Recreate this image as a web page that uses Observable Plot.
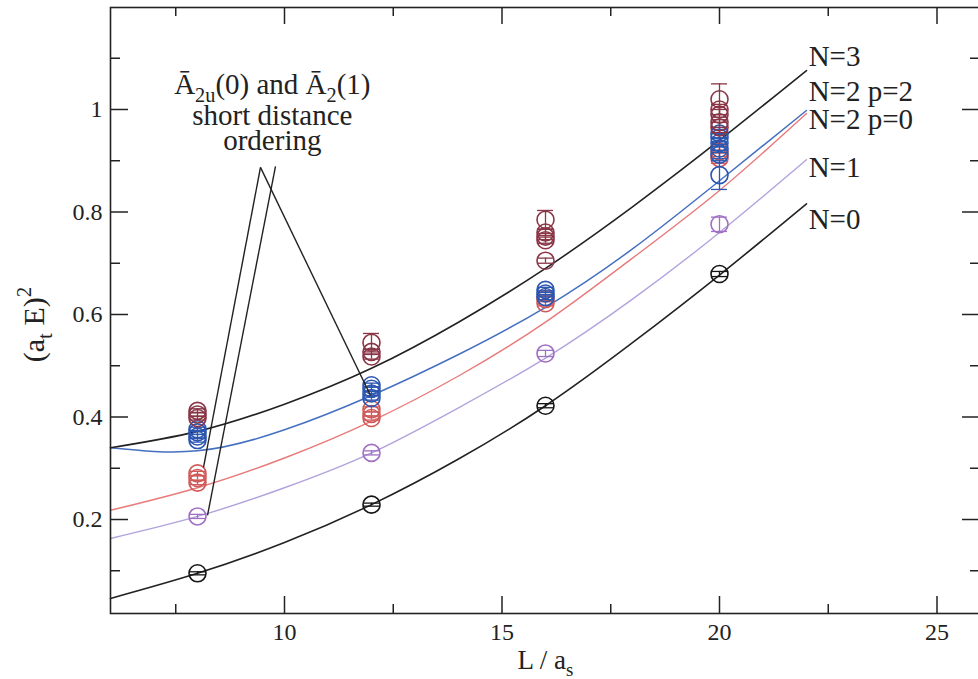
<!DOCTYPE html>
<html>
<head>
<meta charset="utf-8">
<script src="https://cdn.jsdelivr.net/npm/d3@7"></script>
<script src="https://cdn.jsdelivr.net/npm/@observablehq/plot@0.6"></script>
<style>
  html, body { margin: 0; padding: 0; background: #fff; overflow: hidden; }
  svg { overflow: hidden; }
  svg, svg text, svg tspan { font-family: "Liberation Serif", "Times New Roman", serif !important; }
</style>
</head>
<body>
<script>
// Lattice sizes L / a_s at which the energies were measured
const sizes = [8, 12, 16, 20];

// Measured (a_t E)^2 values per lattice size, with errors
const energyN0 = [[0.095], [0.229], [0.422], [0.679]];
const errorN0  = [[0.003], [0.003], [0.004], [0.005]];
const energyN1 = [[0.206], [0.330], [0.524], [0.776]];
const errorN1  = [[0.004], [0.004], [0.006], [0.014]];
const energyN2p0 = [[0.272, 0.281, 0.290], [0.398, 0.406, 0.415], [0.622, 0.630], [0.905, 0.918]];
const errorN2p0  = [[0.004, 0.004, 0.004], [0.004, 0.004, 0.005], [0.005, 0.005], [0.010, 0.010]];
const energyN2p2 = [[0.355, 0.362, 0.370, 0.376], [0.437, 0.446, 0.455, 0.462], [0.634, 0.641, 0.648], [0.872, 0.912, 0.924, 0.935, 0.945, 0.953]];
const errorN2p2  = [[0.004, 0.004, 0.004, 0.004], [0.004, 0.004, 0.004, 0.004], [0.005, 0.005, 0.005], [0.028, 0.008, 0.008, 0.008, 0.008, 0.008]];
const energyN3 = [[0.398, 0.405, 0.412], [0.518, 0.527, 0.545], [0.705, 0.745, 0.752, 0.760, 0.785], [0.965, 0.975, 0.990, 1.000, 1.020]];
const errorN3  = [[0.004, 0.004, 0.004], [0.005, 0.005, 0.018], [0.005, 0.006, 0.006, 0.006, 0.018], [0.010, 0.010, 0.010, 0.010, 0.030]];

// Fitted curves sampled along L / a_s
const fitL   = [6, 8, 10, 12, 14, 16, 18, 20, 22];
const fitN0  = [0.046, 0.095, 0.155, 0.229, 0.318, 0.422, 0.545, 0.677, 0.816];
const fitN1  = [0.163, 0.206, 0.262, 0.330, 0.418, 0.515, 0.630, 0.760, 0.902];
const fitN2p0 = [0.218, 0.262, 0.320, 0.392, 0.480, 0.585, 0.710, 0.842, 0.992];
const fitN2p2 = [0.340, 0.334, 0.375, 0.442, 0.522, 0.614, 0.728, 0.861, 0.998];
const fitN3  = [0.340, 0.372, 0.425, 0.495, 0.585, 0.690, 0.810, 0.940, 1.076];

// Curve labels at the right end of the fits
const curveLabels = ["N=3", "N=2 p=2", "N=2 p=0", "N=1", "N=0"];
const curveLabelY = [1.084, 1.016, 0.962, 0.869, 0.766];
const curveLabelX = 22.05;

// Annotation text and its pointers (data coordinates)
const noteLines = ["Ā2u(0) and Ā2(1)", "short distance", "ordering"];
const noteY = [1.031, 0.969, 0.920];
const noteX = 9.72;
const pointerFrom = [[9.448, 0.887], [9.793, 0.889], [9.448, 0.887]];
const pointerTo   = [[8.138, 0.3015], [8.23, 0.208], [11.977, 0.442]];

// Axis ticks
const xMajor = [10, 15, 20, 25];
const xMinor = [7.5, 12.5, 17.5, 22.5];
const yMajor = [0.2, 0.4, 0.6, 0.8, 1];
const yMinor = [0.1, 0.3, 0.5, 0.7, 0.9, 1.1];

const xDomain = [6, 26];
const yDomain = [0.0166, 1.199];

const serif = "'Liberation Serif', 'Times New Roman', serif";
const ink = "#222";
const series = [
  {E: energyN0,   err: errorN0,   dot: "#151515"},
  {E: energyN1,   err: errorN1,   dot: "#a070c4"},
  {E: energyN2p0, err: errorN2p0, dot: "#d05a5a"},
  {E: energyN2p2, err: errorN2p2, dot: "#2c56b0"},
  {E: energyN3,   err: errorN3,   dot: "#8a3646"}
];
const fits = [
  {y: fitN0,   stroke: ink,       w: 1.6},
  {y: fitN1,   stroke: "#b3a3dd", w: 1.4},
  {y: fitN2p0, stroke: "#e87a7a", w: 1.4},
  {y: fitN2p2, stroke: "#4570c0", w: 1.5},
  {y: fitN3,   stroke: ink,       w: 1.6}
];

function rows(s) {
  return sizes.flatMap((L, i) => s.E[i].map((E, j) => ({L, E, err: s.err[i][j]})));
}

const marks = [];

// fitted curves
for (const f of fits) {
  marks.push(Plot.line(fitL.map((L, i) => ({L, E: f.y[i]})),
    {x: "L", y: "E", curve: "natural", stroke: f.stroke, strokeWidth: f.w}));
}

// measurements: error bars, caps and open circles
for (const s of series) {
  const data = rows(s);
  marks.push(Plot.ruleX(data, {x: "L", y1: d => d.E - d.err, y2: d => d.E + d.err, stroke: s.dot, strokeWidth: 1.3}));
  marks.push(Plot.ruleY(data, {x1: "L", x2: "L", y: d => d.E + d.err, insetLeft: -8, insetRight: -8, stroke: s.dot, strokeWidth: 1.3}));
  marks.push(Plot.ruleY(data, {x1: "L", x2: "L", y: d => d.E - d.err, insetLeft: -8, insetRight: -8, stroke: s.dot, strokeWidth: 1.3}));
  marks.push(Plot.dot(data, {x: "L", y: "E", r: 8.5, stroke: s.dot, strokeWidth: 1.6, fill: "none"}));
}

// annotation pointers and text
marks.push(Plot.link(pointerFrom.map((p, i) => ({p, q: pointerTo[i]})), {
  x1: d => d.p[0], y1: d => d.p[1], x2: d => d.q[0], y2: d => d.q[1],
  stroke: ink, strokeWidth: 1.4
}));
marks.push(Plot.text(noteLines, {
  x: () => noteX, y: (d, i) => noteY[i], text: d => d,
  textAnchor: "middle", lineAnchor: "bottom", fontSize: 29, fontFamily: serif, fill: ink
}));

// curve labels
marks.push(Plot.text(curveLabels, {
  x: () => curveLabelX, y: (d, i) => curveLabelY[i], text: d => d,
  textAnchor: "start", lineAnchor: "bottom", fontSize: 29, fontFamily: serif, fill: ink
}));

// frame and inward ticks on all four sides
const [xLo, xHi] = xDomain, [yLo, yHi] = yDomain;
marks.push(Plot.frame({stroke: ink, strokeWidth: 1.6}));
marks.push(Plot.ruleX(xMajor, {x: d => d, y1: yLo, y2: yLo, insetBottom: 17, stroke: ink, strokeWidth: 1.5}));
marks.push(Plot.ruleX(xMinor, {x: d => d, y1: yLo, y2: yLo, insetBottom: 9, stroke: ink, strokeWidth: 1.5}));
marks.push(Plot.ruleX(xMajor, {x: d => d, y1: yHi, y2: yHi, insetTop: 17, stroke: ink, strokeWidth: 1.5}));
marks.push(Plot.ruleX(xMinor, {x: d => d, y1: yHi, y2: yHi, insetTop: 9, stroke: ink, strokeWidth: 1.5}));
marks.push(Plot.ruleY(yMajor, {y: d => d, x1: xLo, x2: xLo, insetRight: -18, stroke: ink, strokeWidth: 1.5}));
marks.push(Plot.ruleY(yMinor, {y: d => d, x1: xLo, x2: xLo, insetRight: -10, stroke: ink, strokeWidth: 1.5}));
marks.push(Plot.ruleY(yMajor, {y: d => d, x1: xHi, x2: xHi, insetLeft: -18, stroke: ink, strokeWidth: 1.5}));
marks.push(Plot.ruleY(yMinor, {y: d => d, x1: xHi, x2: xHi, insetLeft: -10, stroke: ink, strokeWidth: 1.5}));

// tick labels
marks.push(Plot.axisX(xMajor, {anchor: "bottom", tickSize: 0, tickPadding: 9, fontSize: 24, fontFamily: serif, label: null}));
marks.push(Plot.axisY(yMajor, {anchor: "left", tickSize: 0, tickPadding: 8, fontSize: 24, fontFamily: serif, label: null,
  tickFormat: d => d === 1 ? "1" : d3.format(".1f")(d)}));

// axis titles (subscripts added below)
const xTitle = "L / as";
const yTitle = "(at E)2";
marks.push(Plot.text([xTitle], {frameAnchor: "bottom", dy: 55, textAnchor: "middle", lineAnchor: "bottom", fontSize: 27, fontFamily: serif, fill: ink}));
marks.push(Plot.text([yTitle], {frameAnchor: "left", dx: -67, dy: 14, rotate: -90, textAnchor: "middle", lineAnchor: "bottom", fontSize: 30, fontFamily: serif, fill: ink}));

const chart = Plot.plot({
  width: 978,
  height: 679,
  marginLeft: 110,
  marginRight: -2,
  marginTop: 7,
  marginBottom: 66,
  x: {domain: xDomain},
  y: {domain: yDomain},
  style: {fontFamily: serif, fontSize: "24px", color: ink, background: "#fff"},
  marks
});
document.body.appendChild(chart);

// Rebuild selected labels with sub/superscripts
function rich(content, parts, size) {
  d3.select(chart).selectAll("text").filter(function () { return this.textContent === content; })
    .each(function () {
      const el = d3.select(this);
      el.text(null);
      let shift = 0;
      for (const [str, kind] of parts) {
        const t = el.append("tspan").text(str);
        const target = kind === "sub" ? size * 0.28 : kind === "sup" ? -size * 0.42 : 0;
        if (target !== shift) t.attr("dy", target - shift);
        shift = target;
        if (kind) t.attr("font-size", size * 0.7);
      }
    });
}
rich(noteLines[0], [["Ā"], ["2u", "sub"], ["(0) and Ā"], ["2", "sub"], ["(1)"]], 29);
rich(xTitle, [["L / a"], ["s", "sub"]], 27);
rich(yTitle, [["(a"], ["t", "sub"], [" E)"], ["2", "sup"]], 30);
</script>
</body>
</html>
